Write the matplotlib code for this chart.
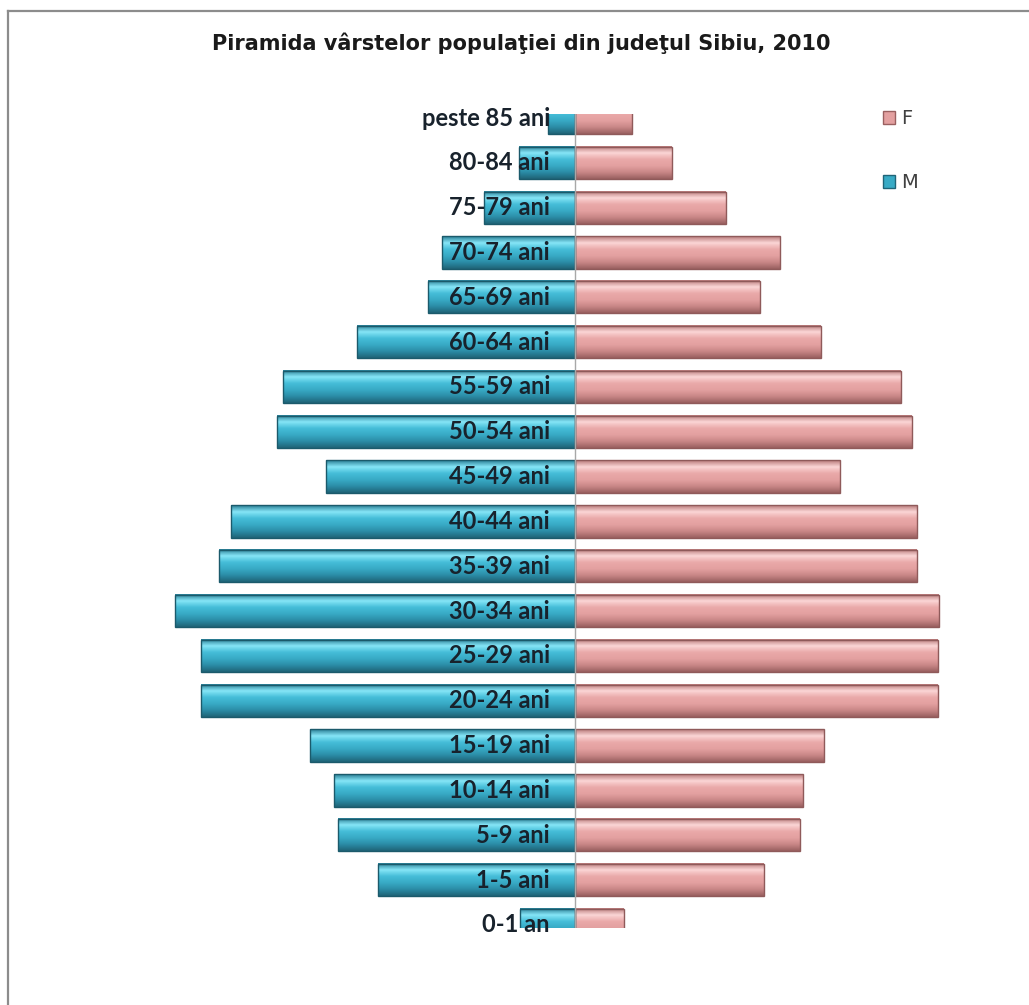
#import plt and np
from matplotlib import pyplot as plt
from matplotlib.colors import LinearSegmentedColormap
from matplotlib.lines import Line2D
from matplotlib.patches import Patch
import numpy as np

#age groups from bottom to top
grupe = ['0-1 an', '1-5 ani', '5-9 ani', '10-14 ani', '15-19 ani', '20-24 ani',
         '25-29 ani', '30-34 ani', '35-39 ani', '40-44 ani', '45-49 ani',
         '50-54 ani', '55-59 ani', '60-64 ani', '65-69 ani', '70-74 ani',
         '75-79 ani', '80-84 ani', 'peste 85 ani']

#population
barbati = [2750, 9850, 11850, 12050, 13250, 18700, 18700, 20000, 17800, 17200,
           12450, 14900, 14600, 10900, 7350, 6650, 4550, 2800, 1350]
femei = [2450, 9450, 11250, 11400, 12450, 18150, 18150, 18200, 17100, 17100,
         13250, 16850, 16300, 12300, 9250, 10250, 7550, 4850, 2850]

titlu = 'Piramida vârstelor populaţiei din judeţul Sibiu, 2010'

W, H = 1029, 1005
fig = plt.figure(figsize=(W / 100, H / 100), dpi=100)
ax = fig.add_axes([150 / W, (H - 928) / H, 810 / W, (928 - 114) / H])

#gradient colormaps to imitate the bevelled bars
cmap_m = LinearSegmentedColormap.from_list('m', ['#1f6477', '#2b8ca6', '#38aac5', '#45bdd8', '#86e6f7', '#2a7f96'])
cmap_f = LinearSegmentedColormap.from_list('f', ['#9a6060', '#c98787', '#e3a0a0', '#eaa9a9', '#fbd6d6', '#b97b7b'])
grad = np.linspace(0, 1, 64).reshape(-1, 1)

h = 0.72
y = np.arange(len(grupe))
for i in y:
    ax.imshow(grad, extent=(-barbati[i], 0, i - h / 2, i + h / 2), origin='lower',
              aspect='auto', cmap=cmap_m, zorder=2)
    ax.imshow(grad, extent=(0, femei[i], i - h / 2, i + h / 2), origin='lower',
              aspect='auto', cmap=cmap_f, zorder=2)

#outline of the bars
ax.barh(y, [-v for v in barbati], height=h, fill=False, edgecolor='#1b5a6b', linewidth=1, zorder=3)
ax.barh(y, femei, height=h, fill=False, edgecolor='#8f5a5a', linewidth=1, zorder=3)

#centre axis
ax.axvline(0, color='#a8a8a8', linewidth=1, zorder=4)

#labels next to the axis
for i, g in enumerate(grupe):
    ax.text(-1250, i, g, ha='right', va='center', fontsize=17, fontweight='bold',
            family=['Lato', 'DejaVu Sans'], color='#18222c', zorder=5)

ax.set_xlim(-21250, 19250)
ax.set_ylim(-0.07, 18.09)
ax.axis('off')

#title
fig.text(521 / W, 1 - 43 / H, titlu, ha='center', va='center', fontsize=15,
         fontweight='bold', color='#1a1a1a')

#legend
maner = [Patch(facecolor='#e3a0a0', edgecolor='#9a6060'),
         Patch(facecolor='#38aac5', edgecolor='#1f6477')]
fig.legend(maner, ['F', 'M'], loc='upper left', bbox_to_anchor=(865 / W, 1 - 92 / H),
           frameon=False, fontsize=14, labelspacing=2.3, handlelength=0.65,
           handleheight=0.65, handletextpad=0.3, labelcolor='#404040')

#chart border
fig.add_artist(Line2D([8 / W, 8 / W], [0, 1 - 11 / H], color='#8c8c8c', linewidth=1.6))
fig.add_artist(Line2D([8 / W, 1], [1 - 11 / H, 1 - 11 / H], color='#8c8c8c', linewidth=1.6))

plt.savefig('out.png', dpi=100, facecolor='white')
